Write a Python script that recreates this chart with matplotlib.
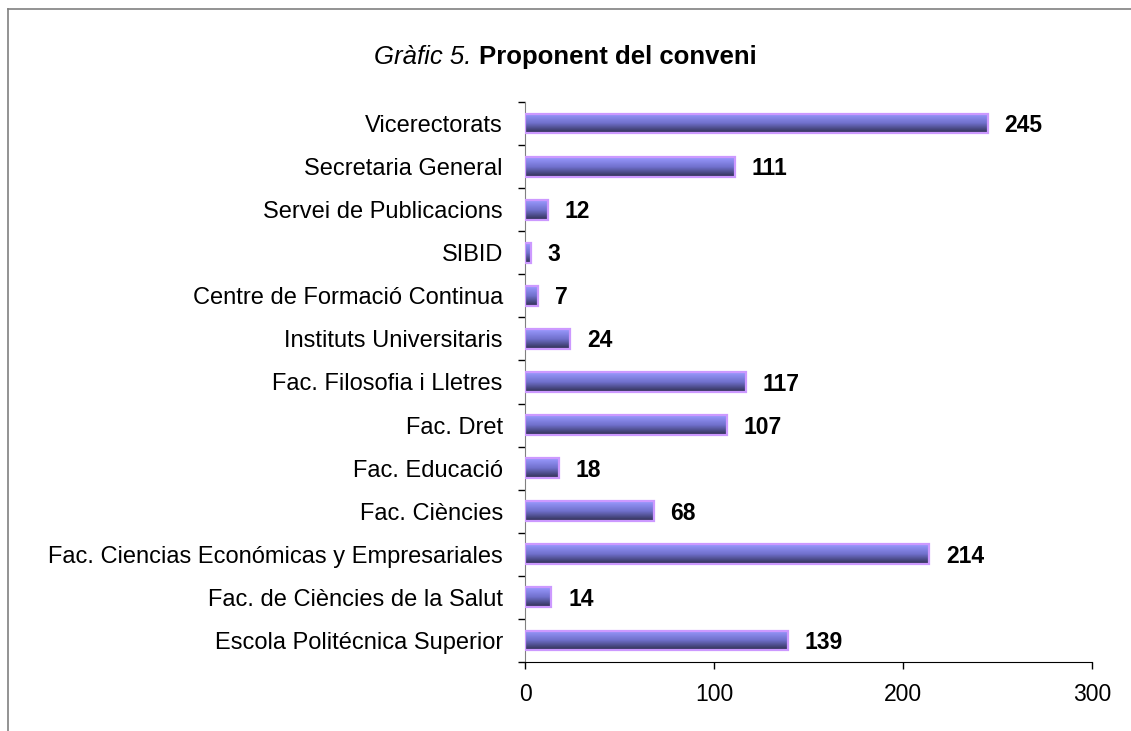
import matplotlib
matplotlib.use("Agg")
import matplotlib.pyplot as plt
import numpy as np
from matplotlib.colors import LinearSegmentedColormap
from matplotlib.lines import Line2D

categories = [
    "Vicerectorats",
    "Secretaria General",
    "Servei de Publicacions",
    "SIBID",
    "Centre de Formació Continua",
    "Instituts Universitaris",
    "Fac. Filosofia i Lletres",
    "Fac. Dret",
    "Fac. Educació",
    "Fac. Ciències",
    "Fac. Ciencias Económicas y Empresariales",
    "Fac. de Ciències de la Salut",
    "Escola Politécnica Superior",
]
values = [245, 111, 12, 3, 7, 24, 117, 107, 18, 68, 214, 14, 139]
x_ticks = [0, 100, 200, 300]

plt.rcParams['font.family'] = ['Liberation Sans', 'DejaVu Sans']
FS = 16.5

fig = plt.figure(figsize=(11.31, 7.31), dpi=100)
ax = fig.add_axes([0.4642, 0.0944, 0.5013, 0.7661])

cmap = LinearSegmentedColormap.from_list("g", ["#9a9aff", "#7070cc", "#2e2e50"])
grad = np.linspace(0, 1, 64).reshape(-1, 1)
h = 0.46
pos = np.arange(len(categories))
for p, v in zip(pos, values):
    ax.imshow(grad, cmap=cmap, aspect='auto', interpolation='bilinear',
              extent=[0, v, p + h / 2, p - h / 2], zorder=2)
ax.barh(pos, values, height=h, facecolor='none', edgecolor='#cc99ff',
        linewidth=1.6, zorder=3)

for p, v in zip(pos, values):
    ax.annotate(str(v), xy=(v, p), xytext=(12, -1.5), textcoords='offset points',
                ha='left', va='center', fontsize=FS, fontweight='bold', color='black')

ax.set_xlim(0, 300)
ax.set_ylim(len(categories) - 0.5, -0.5)
ax.set_xticks(x_ticks)
ax.set_xticklabels([str(t) for t in x_ticks], fontsize=FS)
ax.set_yticks(pos)
ax.set_yticklabels(categories, fontsize=17)
ax.set_yticks(np.arange(len(categories) + 1) - 0.5, minor=True)
ax.tick_params(axis='y', which='major', length=0, pad=16)
ax.tick_params(axis='y', which='minor', length=5, width=1, color='black')
ax.tick_params(axis='x', which='major', length=5, width=1, pad=10)
for s in ['top', 'right']:
    ax.spines[s].set_visible(False)
ax.spines['left'].set_color('#808080')
ax.spines['bottom'].set_color('black')

# Title with mixed styles
TFS = 18.5
r = fig.canvas.get_renderer()
tmp1 = fig.text(0, 0, "Gràfic 5. ", fontsize=TFS, fontstyle='italic')
tmp2 = fig.text(0, 0, "Proponent del conveni", fontsize=TFS, fontweight='bold')
w1 = tmp1.get_window_extent(r).width
w2 = tmp2.get_window_extent(r).width
tmp1.remove()
tmp2.remove()
x0 = 0.5 - (w1 + w2) / 2 / fig.bbox.width
ty = 1 - 57 / 731
fig.text(x0, ty, "Gràfic 5. ", fontsize=TFS, fontstyle='italic', ha='left', va='center')
fig.text(x0 + w1 / fig.bbox.width, ty, "Proponent del conveni", fontsize=TFS,
         fontweight='bold', ha='left', va='center')

# Frame lines (top and left)
fig.add_artist(Line2D([8 / 1131, 1], [1 - 9 / 731, 1 - 9 / 731], color='#808080', lw=1.2,
                      transform=fig.transFigure))
fig.add_artist(Line2D([8 / 1131, 8 / 1131], [0, 1 - 9 / 731], color='#808080', lw=1.2,
                      transform=fig.transFigure))

fig.savefig("out.png", dpi=100)
